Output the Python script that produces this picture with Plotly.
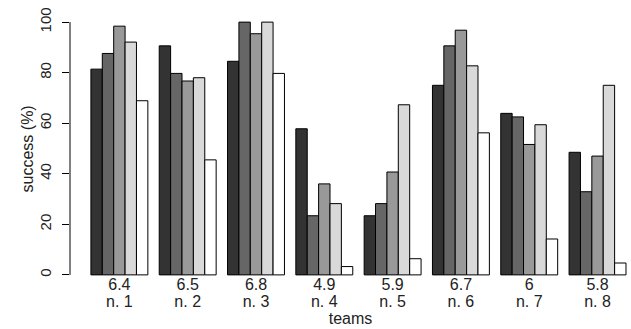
import plotly.graph_objects as go

scores = ["6.4", "6.5", "6.8", "4.9", "5.9", "6.7", "6", "5.8"]
teams = ["n. 1", "n. 2", "n. 3", "n. 4", "n. 5", "n. 6", "n. 7", "n. 8"]
s1 = [81.4, 90.6, 84.5, 57.8, 23.4, 75.0, 63.9, 48.5]
s2 = [87.6, 79.7, 100.0, 23.4, 28.2, 90.6, 62.5, 32.9]
s3 = [98.4, 76.7, 95.4, 36.0, 40.7, 96.8, 51.6, 47.0]
s4 = [92.1, 78.0, 100.0, 28.2, 67.3, 82.7, 59.4, 75.0]
s5 = [68.9, 45.5, 79.7, 3.3, 6.4, 56.2, 14.2, 4.7]
series = [s1, s2, s3, s4, s5]
colors = ["#333333", "#666666", "#999999", "#d9d9d9", "#ffffff"]
yticks = [0, 20, 40, 60, 80, 100]

FONT = "Liberation Sans, Arial, sans-serif"
XRANGE = [-0.723, 7.49]

fig = go.Figure()
for vals, col in zip(series, colors):
    fig.add_trace(go.Bar(
        x=scores, y=vals, marker=dict(color=col, line=dict(color="black", width=1)),
        showlegend=False,
    ))

# y axis line only spanning 0..100, like R
fig.add_shape(type="line", xref="paper", yref="y", x0=0, x1=0, y0=0, y1=100,
              line=dict(color="black", width=1))

fig.update_layout(
    width=631, height=329,
    margin=dict(l=70, r=0, t=12, b=44),
    paper_bgcolor="white", plot_bgcolor="white",
    barmode="group", bargap=1/6, bargroupgap=0,
    font=dict(family=FONT, size=16, color="#222222"),
    xaxis=dict(
        type="category", range=XRANGE, showgrid=False, zeroline=False, showline=False,
        ticks="", tickfont=dict(size=16), automargin=False,
        ticklabelstandoff=-12,
    ),
    xaxis2=dict(
        type="linear", range=XRANGE, overlaying="x", anchor="y", side="bottom",
        tickvals=list(range(len(teams))), ticktext=teams,
        showgrid=False, zeroline=False, showline=False, ticks="",
        tickfont=dict(size=16), automargin=False, ticklabelstandoff=5,
        title=dict(text="teams", standoff=0, font=dict(size=16)),
    ),
    yaxis=dict(
        range=[-4, 104], tickvals=yticks, showgrid=False, zeroline=False,
        showline=False, ticks="outside", ticklen=7, tickcolor="black",
        tickangle=-90, tickfont=dict(size=15), automargin=False,
        ticklabelstandoff=5,
    ),
    annotations=[dict(
        text="success (%)", textangle=-90, xref="paper", yref="paper",
        x=-0.075, y=0.5, xanchor="center", yanchor="middle", showarrow=False,
        font=dict(size=16),
    )],
)
# invisible trace to activate the second x axis
fig.add_trace(go.Scatter(x=[0], y=[0], xaxis="x2", mode="markers",
                         marker=dict(opacity=0), showlegend=False, hoverinfo="skip"))

fig.write_html("out.html", config={"displayModeBar": False},
               post_script="document.body.style.margin='0';")
